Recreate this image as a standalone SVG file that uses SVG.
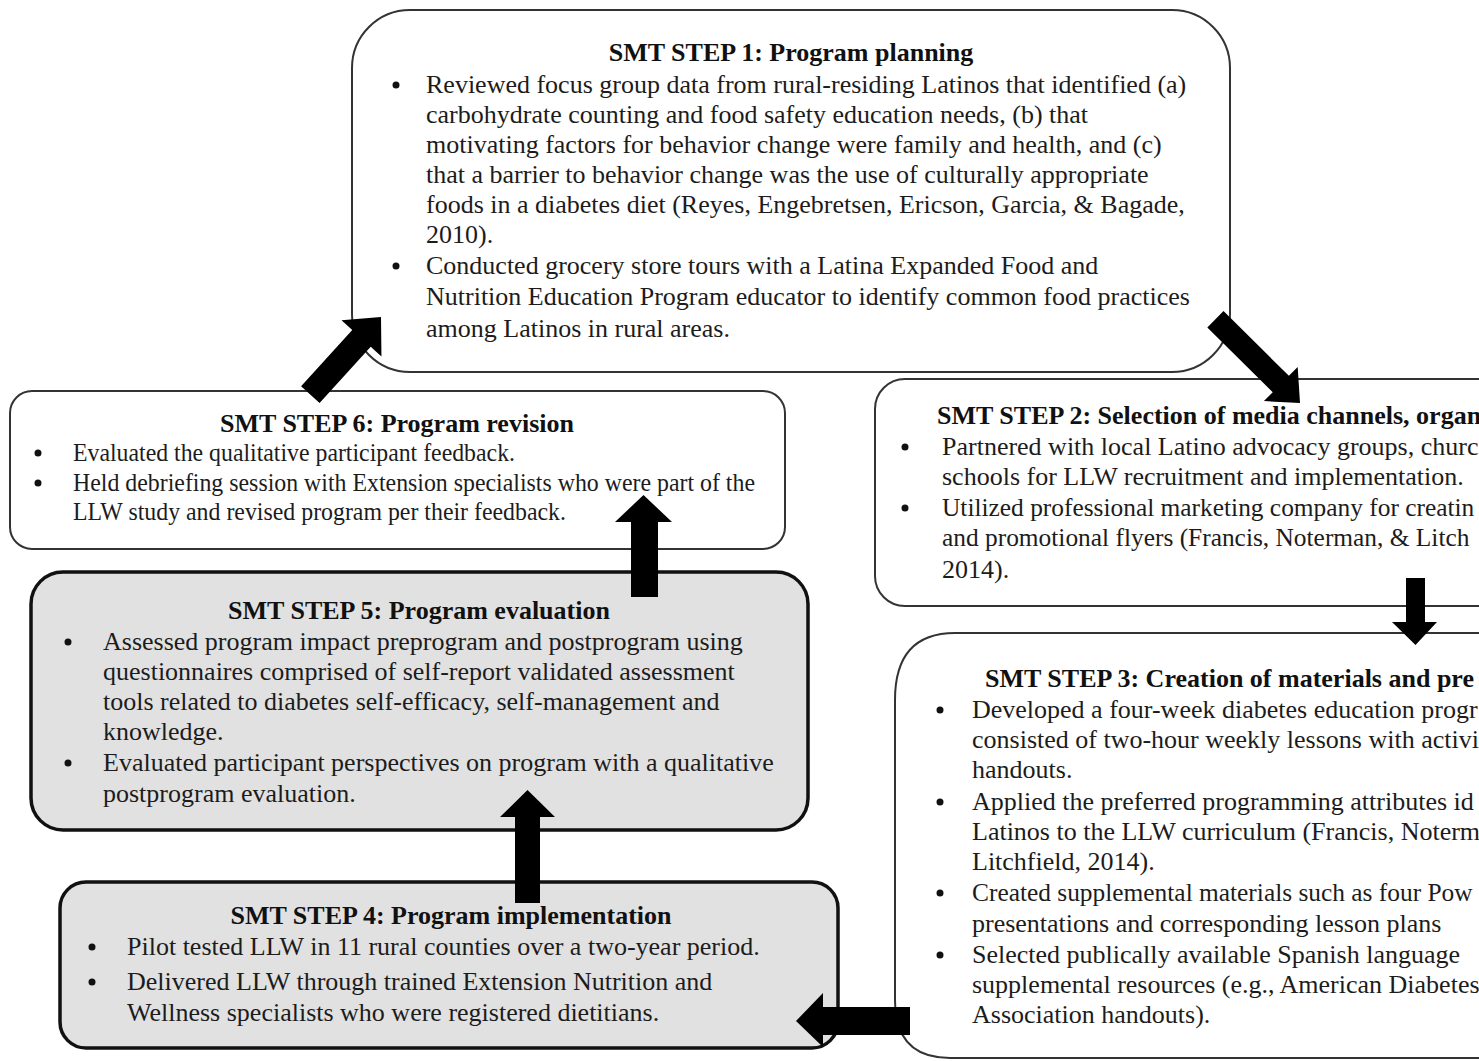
<svg xmlns="http://www.w3.org/2000/svg" width="1479" height="1061" viewBox="0 0 1479 1061">
<style>
text{font-family:"Liberation Serif","Times New Roman",serif;font-size:26px;fill:#1c1c1c}
.t{font-weight:bold;fill:#111}
.c{text-anchor:middle}
.s{font-size:25.4px}
.box{fill:#fff;stroke:#333;stroke-width:2}
.gbox{fill:#e1e1e1;stroke:#111;stroke-width:3.5}
.b{fill:#111}
.arr{fill:#000}
</style>
<rect width="1479" height="1061" fill="#fff"/>
<g id="step1">
<rect class="box" x="352" y="10" width="878" height="362" rx="58" ry="58"/>
<text class="t c" x="791" y="61">SMT STEP 1: Program planning</text>
<circle class="b" cx="396" cy="85" r="3.5"/>
<text x="426" y="93">Reviewed focus group data from rural-residing Latinos that identified (a)</text>
<text x="426" y="123">carbohydrate counting and food safety education needs, (b) that</text>
<text x="426" y="153">motivating factors for behavior change were family and health, and (c)</text>
<text x="426" y="183">that a barrier to behavior change was the use of culturally appropriate</text>
<text x="426" y="213">foods in a diabetes diet (Reyes, Engebretsen, Ericson, Garcia, &amp; Bagade,</text>
<text x="426" y="243">2010).</text>
<circle class="b" cx="396" cy="266" r="3.5"/>
<text x="426" y="274">Conducted grocery store tours with a Latina Expanded Food and</text>
<text x="426" y="305">Nutrition Education Program educator to identify common food practices</text>
<text x="426" y="337">among Latinos in rural areas.</text>
</g>
<g id="step2">
<rect class="box" x="875" y="379" width="660" height="227" rx="30" ry="30"/>
<text class="t" x="937" y="424">SMT STEP 2: Selection of media channels, organ</text>
<circle class="b" cx="905" cy="447" r="3.5"/>
<text x="942" y="455">Partnered with local Latino advocacy groups, churc</text>
<text x="942" y="485">schools for LLW recruitment and implementation.</text>
<circle class="b" cx="905" cy="508" r="3.5"/>
<text class="s" x="942" y="516">Utilized professional marketing company for creatin</text>
<text class="s" x="942" y="546">and promotional flyers (Francis, Noterman, &amp; Litch</text>
<text x="942" y="578">2014).</text>
</g>
<g id="step3">
<path class="box" d="M1535,633 L955,633 Q895,633 895,700 L895,1000 Q895,1058 950,1058 L1535,1058"/>
<text class="t" x="985" y="687">SMT STEP 3: Creation of materials and pre</text>
<circle class="b" cx="940" cy="710" r="3.5"/>
<text x="972" y="718">Developed a four-week diabetes education progr</text>
<text x="972" y="748">consisted of two-hour weekly lessons with activi</text>
<text x="972" y="778">handouts.</text>
<circle class="b" cx="940" cy="802" r="3.5"/>
<text x="972" y="810">Applied the preferred programming attributes id</text>
<text x="972" y="840">Latinos to the LLW curriculum (Francis, Noterm</text>
<text x="972" y="870">Litchfield, 2014).</text>
<circle class="b" cx="940" cy="893" r="3.5"/>
<text class="s" x="972" y="901">Created supplemental materials such as four Pow</text>
<text x="972" y="932">presentations and corresponding lesson plans</text>
<circle class="b" cx="940" cy="955" r="3.5"/>
<text x="972" y="963">Selected publically available Spanish language</text>
<text x="972" y="993">supplemental resources (e.g., American Diabetes</text>
<text x="972" y="1023">Association handouts).</text>
</g>
<g id="step4">
<rect class="gbox" x="60" y="882" width="778" height="166" rx="26" ry="26"/>
<text class="t c" x="451" y="924">SMT STEP 4: Program implementation</text>
<circle class="b" cx="92" cy="947" r="3.5"/>
<text x="127" y="955">Pilot tested LLW in 11 rural counties over a two-year period.</text>
<circle class="b" cx="92" cy="982" r="3.5"/>
<text x="127" y="990">Delivered LLW through trained Extension Nutrition and</text>
<text x="127" y="1021">Wellness specialists who were registered dietitians.</text>
</g>
<g id="step5">
<rect class="gbox" x="31" y="572" width="777" height="258" rx="32" ry="32"/>
<text class="t c" x="419" y="619">SMT STEP 5: Program evaluation</text>
<circle class="b" cx="68" cy="642" r="3.5"/>
<text x="103" y="650">Assessed program impact preprogram and postprogram using</text>
<text x="103" y="680">questionnaires comprised of self-report validated assessment</text>
<text x="103" y="710">tools related to diabetes self-efficacy, self-management and</text>
<text x="103" y="740">knowledge.</text>
<circle class="b" cx="68" cy="763" r="3.5"/>
<text x="103" y="771">Evaluated participant perspectives on program with a qualitative</text>
<text x="103" y="802">postprogram evaluation.</text>
</g>
<g id="step6">
<rect class="box" x="10" y="391" width="775" height="158" rx="22" ry="22"/>
<text class="t c" x="397" y="432">SMT STEP 6: Program revision</text>
<circle class="b" cx="38" cy="453" r="3.5"/>
<text x="73" y="461" textLength="442" lengthAdjust="spacingAndGlyphs">Evaluated the qualitative participant feedback.</text>
<circle class="b" cx="38" cy="483" r="3.5"/>
<text x="73" y="491" textLength="682" lengthAdjust="spacingAndGlyphs">Held debriefing session with Extension specialists who were part of the</text>
<text x="73" y="520" textLength="493" lengthAdjust="spacingAndGlyphs">LLW study and revised program per their feedback.</text>
</g>
<g id="connectors">
<path class="arr" transform="translate(381,317) rotate(-47.7)" d="M-105,-12.5 L-29,-12.5 L-29,-27 L0,0 L-29,27 L-29,12.5 L-105,12.5 Z"/>
<path class="arr" transform="translate(1300,403) rotate(44.7)" d="M-119,-11.5 L-27,-11.5 L-27,-24 L0,0 L-27,24 L-27,11.5 L-119,11.5 Z"/>
<path class="arr" d="M1406,578 L1425,578 L1425,622 L1437,622 L1415.5,645 L1392,622 L1406,622 Z"/>
<path class="arr" d="M910,1007 L910,1035 L823,1035 L823,1047 L796,1021 L823,993 L823,1007 Z"/>
<path class="arr" d="M515,903 L540,903 L540,817 L555,817 L527.5,790 L500,817 L515,817 Z"/>
<path class="arr" d="M631,597 L658,597 L658,522 L672,522 L643.5,495 L615,522 L631,522 Z"/>
</g>
</svg>
